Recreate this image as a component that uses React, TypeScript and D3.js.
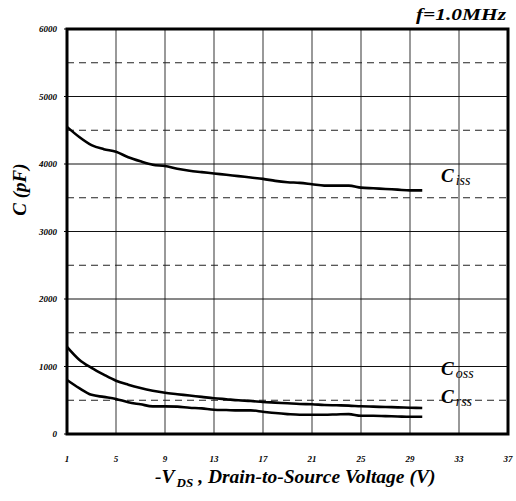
import React from "react";
import * as d3 from "d3";

// Drain-source voltage (V) sample points
const vds = [1, 2, 3, 4, 5, 6, 7, 8, 9, 10, 11, 12, 13, 14, 15, 16, 17, 18, 19, 20, 21, 22, 23, 24, 25, 26, 27, 28, 29, 30];

// Capacitances (pF)
const ciss = [4550, 4400, 4280, 4220, 4180, 4100, 4040, 3990, 3970, 3930, 3900, 3880, 3860, 3840, 3820, 3800, 3780, 3750, 3730, 3720, 3700, 3680, 3680, 3680, 3650, 3640, 3630, 3620, 3610, 3610];
const coss = [1290, 1100, 980, 880, 790, 730, 680, 640, 610, 590, 570, 550, 530, 515, 500, 490, 475, 465, 455, 445, 440, 430, 425, 420, 410, 405, 400, 395, 390, 385];
const crss = [800, 680, 580, 550, 520, 470, 440, 410, 410, 405, 390, 380, 360, 355, 350, 350, 330, 310, 295, 285, 285, 285, 290, 295, 270, 270, 265, 260, 255, 255];

const xTicks = [1, 5, 9, 13, 17, 21, 25, 29, 33, 37];
const yTicks = [0, 1000, 2000, 3000, 4000, 5000, 6000];
const yHalfTicks = [500, 1500, 2500, 3500, 4500, 5500];

// Curve labels, anchored at a capacitance level on the right side of the plot
const seriesLabels = [
  { main: "C", sub: "iss", v: 3735 },
  { main: "C", sub: "oss", v: 880 },
  { main: "C", sub: "rss", v: 465 },
];

const FONT = "Liberation Serif, DejaVu Serif, Times New Roman, serif";

export default function App() {
  const W = 516;
  const H = 501;
  const left = 67;
  const right = 508;
  const top = 29;
  const bottom = 434;

  const x = d3.scaleLinear().domain([1, 37]).range([left, right]);
  const y = d3.scaleLinear().domain([0, 6000]).range([bottom, top]);

  const line = d3
    .line<number>()
    .x((_, i) => x(vds[i]))
    .y((d) => y(d))
    .curve(d3.curveMonotoneX);

  const curves = [ciss, coss, crss];
  const txt = { fontFamily: FONT, fontWeight: 700, fontStyle: "italic" } as React.CSSProperties;

  return (
    <svg width={W} height={H} style={{ position: "absolute", left: 0, top: 0, background: "#fff" }}>
      <rect x={0} y={0} width={W} height={H} fill="#fff" />

      {/* vertical grid */}
      {xTicks.slice(1, -1).map((t) => (
        <line key={"vx" + t} x1={x(t)} x2={x(t)} y1={top} y2={bottom} stroke="#555" strokeWidth={1.2} />
      ))}
      {/* horizontal solid grid */}
      {yTicks.slice(1, -1).map((t) => (
        <line key={"hy" + t} x1={left} x2={right} y1={y(t)} y2={y(t)} stroke="#111" strokeWidth={1} />
      ))}
      {/* horizontal dashed grid */}
      {yHalfTicks.map((t) => (
        <line key={"dy" + t} x1={left} x2={right} y1={y(t)} y2={y(t)} stroke="#222" strokeWidth={1} strokeDasharray="7,5" />
      ))}

      {/* curves */}
      {curves.map((c, i) => (
        <path key={"c" + i} d={line(c) ?? ""} fill="none" stroke="#000" strokeWidth={2.6} strokeLinejoin="round" />
      ))}

      {/* frame */}
      <rect x={left} y={top} width={right - left} height={bottom - top} fill="none" stroke="#000" strokeWidth={3} />

      {/* y tick marks and labels */}
      {yTicks.map((t) => (
        <g key={"yt" + t}>
          <line x1={left - 3} x2={left} y1={y(t)} y2={y(t)} stroke="#000" strokeWidth={1} />
          <text x={57} y={y(t) + 3} textAnchor="end" style={{ ...txt, fontSize: 9 }}>
            {t}
          </text>
        </g>
      ))}
      {/* x tick labels */}
      {xTicks.map((t) => (
        <text key={"xt" + t} x={x(t)} y={462} textAnchor="middle" style={{ ...txt, fontSize: 9 }}>
          {t}
        </text>
      ))}

      {/* curve labels */}
      {seriesLabels.map((s) => (
        <text key={s.sub} x={441} y={y(s.v)} style={{ fontFamily: FONT, fontStyle: "italic" }}>
          <tspan style={{ fontWeight: 700, fontSize: 19 }}>{s.main}</tspan>
          <tspan style={{ fontSize: 14 }} dy={3} dx={2}>{s.sub}</tspan>
        </text>
      ))}

      {/* title */}
      <text x={506} y={20} textAnchor="end" style={{ ...txt, fontSize: 16 }} textLength={90} lengthAdjust="spacingAndGlyphs">
        f=1.0MHz
      </text>

      {/* y axis title */}
      <text
        transform={`translate(26, ${(top + bottom) / 2 - 42}) rotate(-90)`}
        textAnchor="middle"
        style={{ ...txt, fontSize: 19 }}
      >
        C (pF)
      </text>

      {/* x axis title */}
      <text x={155} y={483} style={{ ...txt, fontSize: 19.5 }}>
        <tspan>-V</tspan>
        <tspan style={{ fontSize: 13 }} dy={4} dx={2}>DS</tspan>
        <tspan dy={-4} dx={5}>, Drain-to-Source Voltage (V)</tspan>
      </text>
    </svg>
  );
}
